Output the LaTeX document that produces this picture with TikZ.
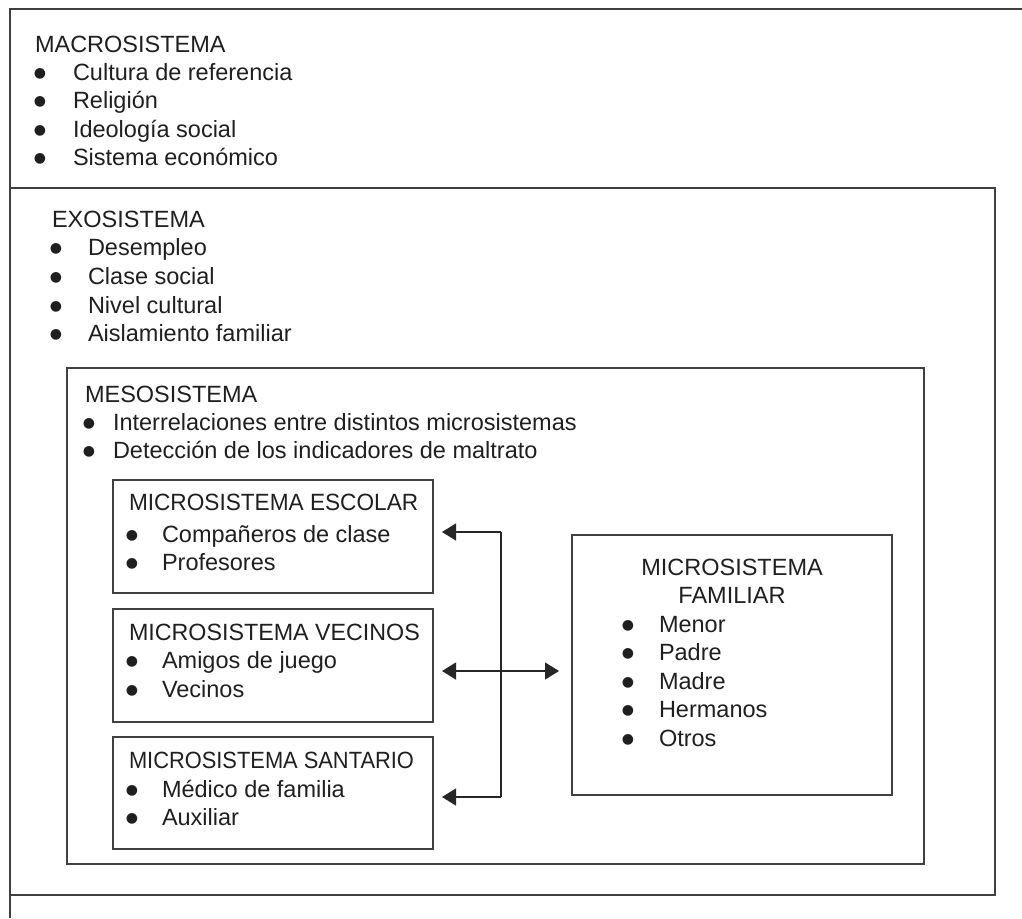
\documentclass[tikz,border=0pt]{standalone}
\usepackage{fontspec}
\setmainfont{Liberation Sans}
\newfontfamily\bulfont{DejaVu Sans}
\usetikzlibrary{arrows.meta}
\newcommand{\bigbul}{\makebox[10pt][c]{\raisebox{2.6pt}{\bulfont\fontsize{14}{14}\selectfont ●}}}
\begin{document}
\begin{tikzpicture}[x=1pt,y=-1pt,
  frame/.style={draw=black!75, line width=1.6pt},
  box/.style={draw=black!75, line width=1.6pt, inner sep=0pt, outer sep=0pt},
  txt/.style={anchor=base west, inner sep=0pt, outer sep=0pt, text=black!88,
    font=\fontsize{23.5}{28}\selectfont},
  ctxt/.style={anchor=base, inner sep=0pt, outer sep=0pt, text=black!88,
    font=\fontsize{23.5}{28}\selectfont},
  link/.style={draw=black!85, line width=1.3pt},
  arr/.style={link, -{Triangle[length=14pt,width=17pt]}},
  darr/.style={link, {Triangle[length=14pt,width=17pt]}-{Triangle[length=14pt,width=17pt]}}
]
\useasboundingbox (0,0) rectangle (1022,918);
% outer (macro) frame, cropped
\coordinate (oTL) at (10,9);
\coordinate (oTR) at (1022,9);
\coordinate (oBL) at (10,918);
\draw[frame] (oTR) -- (oTL) -- (oBL);
% boxes
\node[box, minimum width=985pt, minimum height=707pt] (exo) at (502.5,541.5) {};
\node[box, minimum width=857pt, minimum height=496pt] (meso) at (495.5,616) {};
\node[box, minimum width=320pt, minimum height=113pt] (esc) at (273,536.5) {};
\node[box, minimum width=320pt, minimum height=113pt] (vec) at (273,665.5) {};
\node[box, minimum width=320pt, minimum height=112pt] (san) at (273,793) {};
\node[box, minimum width=320pt, minimum height=260pt] (fam) at (732,665) {};
% texts: \itm{name}{bullet left x}{gap to text}{baseline y}{text}
\newcommand{\itm}[5]{%
  \node[txt] (#1) at (#2,#4) {\bigbul\hspace{#3pt}#5};}
\node[txt] (macT) at (35,52) {MACROSISTEMA};
\itm{mac1}{35}{28}{80}{Cultura de referencia}
\itm{mac2}{35}{28}{108}{Religión}
\itm{mac3}{35}{28}{137}{Ideología social}
\itm{mac4}{35}{28}{165}{Sistema económico}
\node[txt] (exoT) at (52,227) {EXOSISTEMA};
\itm{exo1}{51}{27}{255}{Desempleo}
\itm{exo2}{51}{27}{284}{Clase social}
\itm{exo3}{51}{27}{313}{Nivel cultural}
\itm{exo4}{51}{27}{341}{Aislamiento familiar}
\node[txt] (mesoT) at (85,402) {MESOSISTEMA};
\itm{meso1}{84}{19}{430}{Interrelaciones entre distintos microsistemas}
\itm{meso2}{84}{19}{458}{Detección de los indicadores de maltrato}
\node[txt] (escT) at (129,510) {\scalebox{0.963}[1]{MICROSISTEMA ESCOLAR}};
\itm{esc1}{127}{25}{542}{Compañeros de clase}
\itm{esc2}{127}{25}{570}{Profesores}
\node[txt] (vecT) at (129,640) {\scalebox{0.99}[1]{MICROSISTEMA VECINOS}};
\itm{vec1}{127}{25}{668}{Amigos de juego}
\itm{vec2}{127}{25}{697}{Vecinos}
\node[txt] (sanT) at (129,768) {\scalebox{0.93}[1]{MICROSISTEMA SANTARIO}};
\itm{san1}{127}{25}{797}{Médico de familia}
\itm{san2}{127}{25}{825}{Auxiliar}
\node[ctxt] (famT1) at (732,575) {MICROSISTEMA};
\node[ctxt] (famT2) at (732,603) {FAMILIAR};
\itm{fam1}{623}{26}{632}{Menor}
\itm{fam2}{623}{26}{660}{Padre}
\itm{fam3}{623}{26}{689}{Madre}
\itm{fam4}{623}{26}{717}{Hermanos}
\itm{fam5}{623}{26}{746}{Otros}
% connectors
\coordinate (jt) at (501,532);
\coordinate (jm) at (501,671);
\coordinate (jb) at (501,797);
\draw[link] (jt) -- (jb);
\draw[arr, shorten >=9pt] (jt) -- (esc.east |- jt);
\draw[arr, shorten >=9pt] (jb) -- (san.east |- jb);
\draw[darr, shorten <=9pt, shorten >=13pt] (vec.east |- jm) -- (fam.west |- jm);
\end{tikzpicture}
\end{document}
